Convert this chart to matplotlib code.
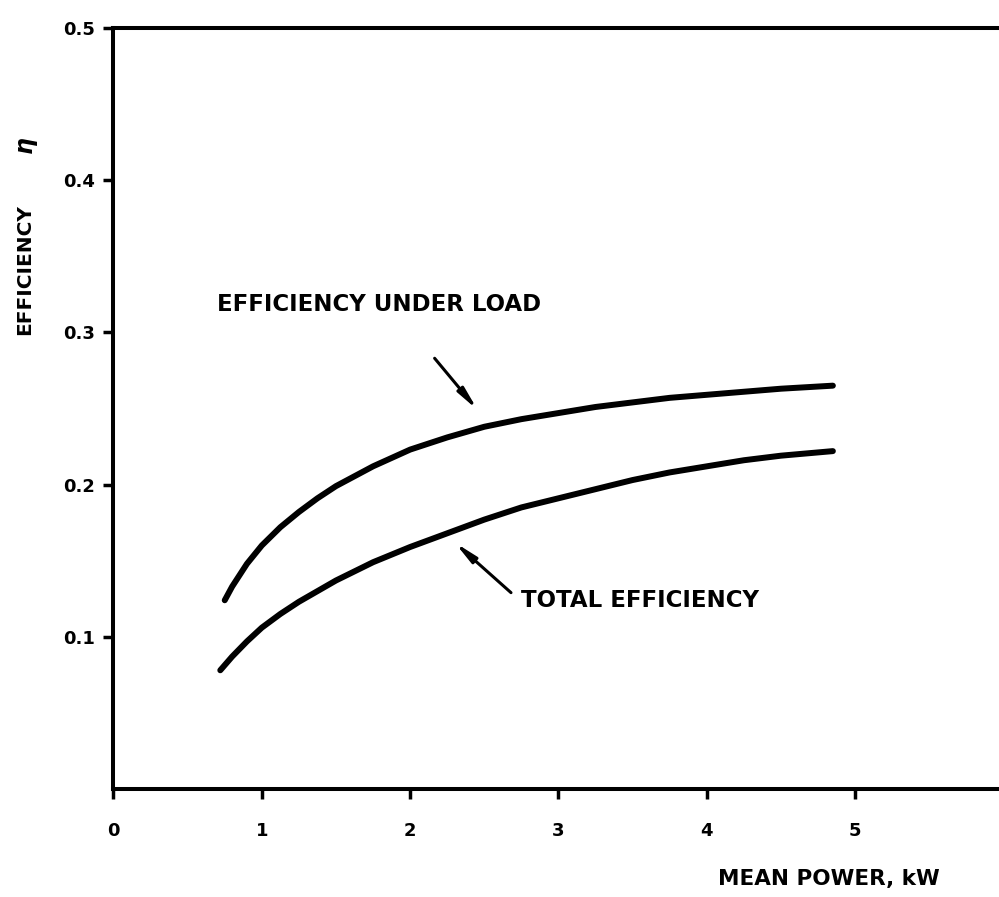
import matplotlib
matplotlib.use('Agg')
from matplotlib import pyplot as plt

# values
load_x = [0.75, 0.80, 0.90, 1.0, 1.125, 1.25, 1.375, 1.5, 1.75, 2.0, 2.25, 2.5, 2.75, 3.0, 3.25, 3.5, 3.75, 4.0, 4.25, 4.5, 4.85]
load_eff = [0.124, 0.133, 0.148, 0.160, 0.172, 0.182, 0.191, 0.199, 0.212, 0.223, 0.231, 0.238, 0.243, 0.247, 0.251, 0.254, 0.257, 0.259, 0.261, 0.263, 0.265]

total_x = [0.72, 0.80, 0.90, 1.0, 1.125, 1.25, 1.375, 1.5, 1.75, 2.0, 2.25, 2.5, 2.75, 3.0, 3.25, 3.5, 3.75, 4.0, 4.25, 4.5, 4.85]
total_eff = [0.078, 0.087, 0.097, 0.106, 0.115, 0.123, 0.130, 0.137, 0.149, 0.159, 0.168, 0.177, 0.185, 0.191, 0.197, 0.203, 0.208, 0.212, 0.216, 0.219, 0.222]

x_ticks = [0, 1, 2, 3, 4, 5]
y_ticks = [0.1, 0.2, 0.3, 0.4, 0.5]
y_tick_labels = ['0.1', '0.2', '0.3', '0.4', '0.5']

plt.rcParams['font.family'] = 'DejaVu Sans'
plt.rcParams['font.weight'] = 'bold'

fig = plt.figure(figsize=(9.99, 8.97), dpi=100)
ax = fig.add_axes([0.1136, 0.1204, 0.8864, 0.8484])

ax.plot(load_x, load_eff, color='black', lw=4.3, solid_capstyle='round', solid_joinstyle='round')
ax.plot(total_x, total_eff, color='black', lw=4.3, solid_capstyle='round', solid_joinstyle='round')

ax.set_xlim(0, 5.97)
ax.set_ylim(0, 0.5)
ax.set_xticks(x_ticks)
ax.set_xticklabels([str(t) for t in x_ticks])
ax.set_yticks(y_ticks)
ax.set_yticklabels(y_tick_labels)

for s in ['left', 'top', 'bottom']:
    ax.spines[s].set_linewidth(2.9)
ax.spines['right'].set_visible(False)

ax.tick_params(axis='x', direction='out', length=7, width=2.5, pad=17, labelsize=13)
ax.tick_params(axis='y', direction='out', length=7, width=2.5, pad=6, labelsize=13)

ap = dict(arrowstyle='-|>,head_length=1.3,head_width=0.22', color='black', lw=2.2, shrinkA=0, shrinkB=0)
ax.annotate('', xy=(2.455, 0.249), xytext=(2.165, 0.283), arrowprops=ap)
ax.annotate('', xy=(2.30, 0.162), xytext=(2.68, 0.129), arrowprops=ap)
ax.text(0.70, 0.318, 'EFFICIENCY UNDER LOAD', fontsize=16.5, fontweight='bold', va='center', ha='left')
ax.text(2.75, 0.124, 'TOTAL EFFICIENCY', fontsize=16.5, fontweight='bold', va='center', ha='left')

fig.text(940 / 999, 1 - 879 / 897, 'MEAN POWER, kW', fontsize=15.5, fontweight='bold', ha='right', va='center')
fig.text(25 / 999, 1 - 270 / 897, 'EFFICIENCY', fontsize=14.5, fontweight='bold', rotation=90, ha='center', va='center')
fig.text(25 / 999, 1 - 145 / 897, 'η', fontsize=17, fontweight='bold', fontstyle='italic', rotation=90, ha='center', va='center')

fig.savefig('out.png', dpi=100)
